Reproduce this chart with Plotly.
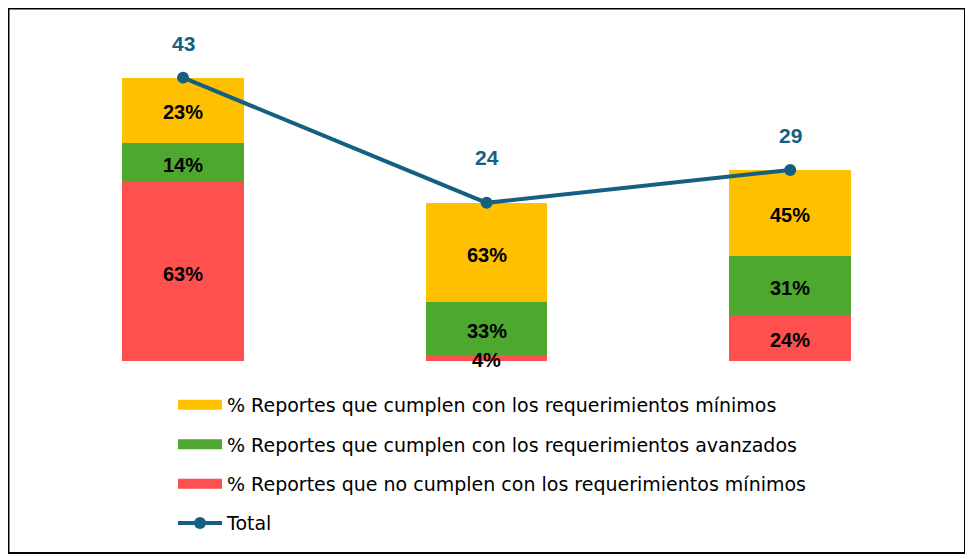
import plotly.graph_objects as go

categories = ["Grupo 1", "Grupo 2", "Grupo 3"]
totals = [43, 24, 29]
pct_no_cumple = [63, 4, 24]
pct_avanzados = [14, 33, 31]
pct_minimos = [23, 63, 45]

name_min = "% Reportes que cumplen con los requerimientos mínimos"
name_av = "% Reportes que cumplen con los requerimientos avanzados"
name_no = "% Reportes que no cumplen con los requerimientos mínimos"

C_YEL = "#FFC000"
C_GRN = "#4EA72E"
C_RED = "#FF5050"
C_LINE = "#156082"

W, H = 973, 559
OFF = 8  # page body margin
FONT = "Liberation Sans"
LFONT = "DejaVu Sans"
total_label_shift = [34, 45, 34]

fig = go.Figure()

def seg(pcts):
    return [t * p / 100 for t, p in zip(totals, pcts)]

stack = [
    (seg(pct_no_cumple), pct_no_cumple, C_RED, name_no),
    (seg(pct_avanzados), pct_avanzados, C_GRN, name_av),
    (seg(pct_minimos), pct_minimos, C_YEL, name_min),
]

base = [0.0] * len(categories)
for vals, pcts, col, name in stack:
    fig.add_trace(go.Bar(
        x=categories, y=vals, marker=dict(color=col, line=dict(width=0)),
        width=0.4, showlegend=False, hoverinfo="skip"))
    for c, b, v, p in zip(categories, base, vals, pcts):
        fig.add_annotation(x=c, y=b + v / 2, text=f"<b>{p}%</b>", showarrow=False,
                           yshift=-2, font=dict(family=FONT, size=20, color="black"))
    base = [b + v for b, v in zip(base, vals)]

fig.add_trace(go.Scatter(
    x=categories, y=totals, mode="lines+markers", name="Total",
    line=dict(color=C_LINE, width=4), marker=dict(size=12, color=C_LINE),
    showlegend=True, legendrank=4, legendgroup="d", cliponaxis=False))

# legend-only entries to show wide colour swatches
for rank, (col, name) in enumerate([(C_YEL, name_min), (C_GRN, name_av), (C_RED, name_no)], start=1):
    fig.add_trace(go.Scatter(
        x=[None], y=[None], mode="lines", name=name,
        line=dict(color=col, width=12), legendrank=rank, legendgroup=f"g{rank}"))

for c, t, s in zip(categories, totals, total_label_shift):
    fig.add_annotation(x=c, y=t, text=f"<b>{t}</b>", showarrow=False, yshift=s,
                       font=dict(family=FONT, size=21, color=C_LINE))

y0_px = 361 - OFF
scale = 6.59
ymax = 50
x_left, x_right = 31.25 - OFF, 942.0 - OFF

fig.update_layout(
    width=W, height=H, margin=dict(l=0, r=0, t=0, b=0),
    paper_bgcolor="white", plot_bgcolor="white",
    barmode="stack", bargap=0.6,
    xaxis=dict(domain=[x_left / W, x_right / W], range=[-0.5, 2.5], visible=False),
    yaxis=dict(domain=[(H - y0_px) / H, (H - (y0_px - scale * ymax)) / H],
               range=[0, ymax], visible=False),
    legend=dict(x=(173 - OFF) / W, y=(H - (386 - OFF)) / H, xanchor="left", yanchor="top",
                orientation="v", font=dict(family=LFONT, size=19, color="black"),
                itemwidth=44, tracegroupgap=11.7, bgcolor="rgba(0,0,0,0)"),
    shapes=[dict(type="rect", xref="paper", yref="paper",
                 x0=0.5 / W, x1=(965 - OFF) / W, y0=(H - (553 - OFF)) / H, y1=(H - 0.5) / H,
                 line=dict(color="black", width=2), fillcolor="rgba(0,0,0,0)")],
    font=dict(family=FONT),
)

fig.write_html("out.html")
